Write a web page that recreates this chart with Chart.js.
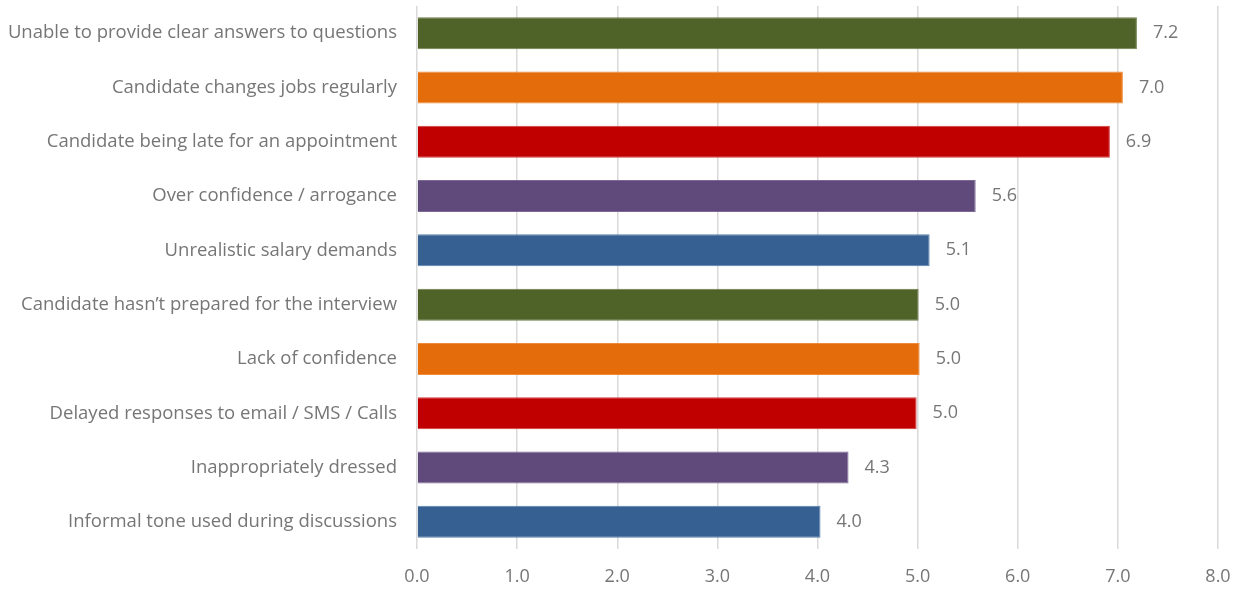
<!DOCTYPE html>
<html>
<head>
<meta charset="utf-8">
<script src="https://cdn.jsdelivr.net/npm/chart.js@4"></script>
<style>
  html, body { margin: 0; padding: 0; background: #fff; }
  #wrap { width: 1242px; height: 590px; position: relative; }
</style>
</head>
<body>
<div id="wrap"><canvas id="c"></canvas></div>
<script>
const categories = [
  "Unable to provide clear answers to questions",
  "Candidate changes jobs regularly",
  "Candidate being late for an appointment",
  "Over confidence / arrogance",
  "Unrealistic salary demands",
  "Candidate hasn\u2019t prepared for the interview",
  "Lack of confidence",
  "Delayed responses to email / SMS / Calls",
  "Inappropriately dressed",
  "Informal tone used during discussions"
];
const values = [7.19, 7.05, 6.92, 5.58, 5.12, 5.01, 5.02, 4.99, 4.31, 4.03];
const barColors = ["#4f6228", "#e46c0a", "#c00000", "#604a7b", "#366092",
                   "#4f6228", "#e46c0a", "#c00000", "#604a7b", "#366092"];
const borderColors = ["#6b7d48", "#ee8a3a", "#d23a3a", "#7c6895", "#5a80ad",
                      "#6b7d48", "#ee8a3a", "#d23a3a", "#7c6895", "#5a80ad"];
const xTicks = [0, 1, 2, 3, 4, 5, 6, 7, 8];

const FONT = "'Open Sans', sans-serif";
const TEXT = "#767676";

const valueLabels = {
  id: 'valueLabels',
  afterDatasetsDraw(chart) {
    const ctx = chart.ctx;
    const meta = chart.getDatasetMeta(0);
    ctx.save();
    ctx.font = "18px " + FONT;
    ctx.fillStyle = TEXT;
    ctx.textAlign = "left";
    ctx.textBaseline = "middle";
    meta.data.forEach((bar, i) => {
      ctx.fillText(values[i].toFixed(1), bar.x + 16, bar.y);
    });
    ctx.restore();
  }
};

new Chart(document.getElementById('c'), {
  type: 'bar',
  data: {
    labels: categories,
    datasets: [{
      data: values,
      backgroundColor: barColors,
      borderColor: borderColors,
      borderWidth: 1,
      categoryPercentage: 0.59,
      barPercentage: 1.0
    }]
  },
  options: {
    indexAxis: 'y',
    responsive: true,
    maintainAspectRatio: false,
    animation: false,
    layout: { padding: { top: 6, right: 24, bottom: 0, left: 0 } },
    plugins: { legend: { display: false }, tooltip: { enabled: false } },
    scales: {
      x: {
        min: 0, max: 8,
        afterBuildTicks(axis) { axis.ticks = xTicks.map(v => ({ value: v })); },
        ticks: {
          color: TEXT,
          font: { family: FONT, size: 18 },
          padding: 17,
          callback: v => Number(v).toFixed(1)
        },
        grid: { color: "#d9d9d9", lineWidth: 1.5, drawTicks: false },
        border: { display: false },
        afterFit(axis) { axis.height = 41; axis.paddingLeft = 0; axis.paddingRight = 0; }
      },
      y: {
        ticks: {
          color: TEXT,
          font: { family: FONT, size: 18.5 },
          padding: 20
        },
        grid: { display: false, drawTicks: false },
        border: { display: false },
        afterFit(axis) { axis.width = 417; axis.paddingTop = 0; axis.paddingBottom = 0; }
      }
    }
  },
  plugins: [valueLabels]
});
</script>
</body>
</html>
